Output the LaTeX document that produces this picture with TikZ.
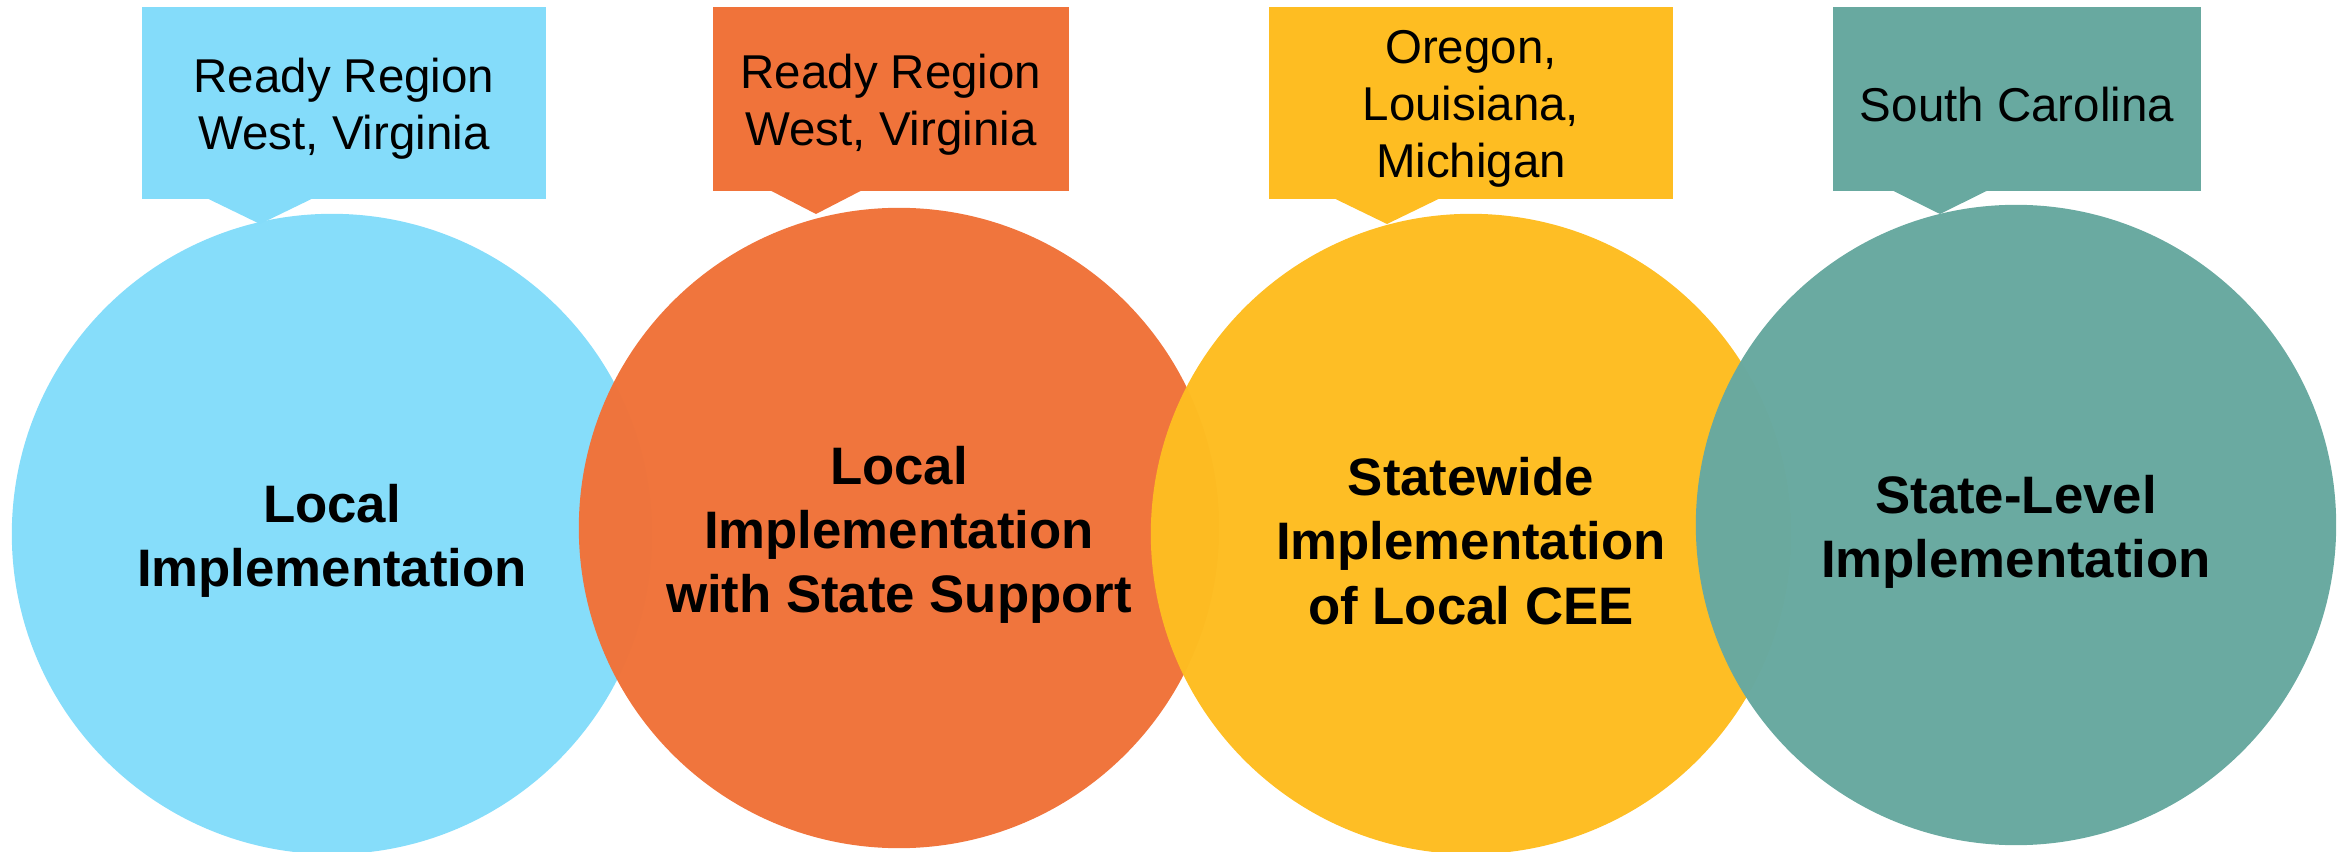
\documentclass[tikz,border=0pt]{standalone}
\usepackage{fontspec}
\setmainfont{Liberation Sans}
\usetikzlibrary{calc}
\definecolor{skyblue}{RGB}{132,220,250}
\definecolor{tangerine}{RGB}{240,115,58}
\definecolor{amber}{RGB}{254,189,34}
\definecolor{seagreen}{RGB}{104,169,160}

\begin{document}
\begin{tikzpicture}[x=0.01cm,y=-0.01cm,
  circ/.style={circle,minimum size=6.4cm,inner sep=0pt,fill opacity=0.985},
  circtext/.style={align=center,yshift=-0.07cm,text opacity=1,
    font=\fontsize{15}{18.3}\selectfont\bfseries},
  tag/.style={rectangle,inner sep=0pt},
  tagtext/.style={align=center,yshift=-0.06cm,
    font=\fontsize{13.5}{16.3}\selectfont}]
  \useasboundingbox (0,0) rectangle (2344,852);
  % callout boxes
  \node[tag,fill=skyblue,minimum width=4.04cm,minimum height=1.92cm,
    label={[tagtext]center:Ready Region\\West, Virginia}] (b1) at (344,103) {};
  \node[tag,fill=tangerine,minimum width=3.56cm,minimum height=1.84cm,
    label={[tagtext]center:Ready Region\\West, Virginia}] (b2) at (891,99) {};
  \node[tag,fill=amber,minimum width=4.04cm,minimum height=1.92cm,
    label={[tagtext]center:Oregon,\\Louisiana,\\Michigan}] (b3) at (1471,103) {};
  \node[tag,fill=seagreen,minimum width=3.68cm,minimum height=1.84cm,
    label={[tagtext]center:South Carolina}] (b4) at (2017,99) {};
  % pointers
  \coordinate (t1) at (260,224);
  \coordinate (t2) at (816,214);
  \coordinate (t3) at (1387,224);
  \coordinate (t4) at (1940,214);
  \fill[skyblue] ($(b1.south -| t1)+(-52,-1)$) -- (t1) -- ($(b1.south -| t1)+(52,-1)$) -- cycle;
  \fill[tangerine] ($(b2.south -| t2)+(-45,-1)$) -- (t2) -- ($(b2.south -| t2)+(45,-1)$) -- cycle;
  \fill[amber] ($(b3.south -| t3)+(-52,-1)$) -- (t3) -- ($(b3.south -| t3)+(52,-1)$) -- cycle;
  \fill[seagreen] ($(b4.south -| t4)+(-47,-1)$) -- (t4) -- ($(b4.south -| t4)+(47,-1)$) -- cycle;
  % circles
  \node[circ,fill=skyblue,label={[circtext]center:Local\\Implementation}] (c1) at (332,534) {};
  \node[circ,fill=tangerine,label={[circtext]center:Local\\Implementation\\with State Support}] (c2) at (899,528) {};
  \node[circ,fill=amber,label={[circtext]center:Statewide\\Implementation\\of Local CEE}] (c3) at (1471,534) {};
  \node[circ,fill=seagreen,label={[circtext]center:State-Level\\Implementation}] (c4) at (2016,525) {};
\end{tikzpicture}
\end{document}
